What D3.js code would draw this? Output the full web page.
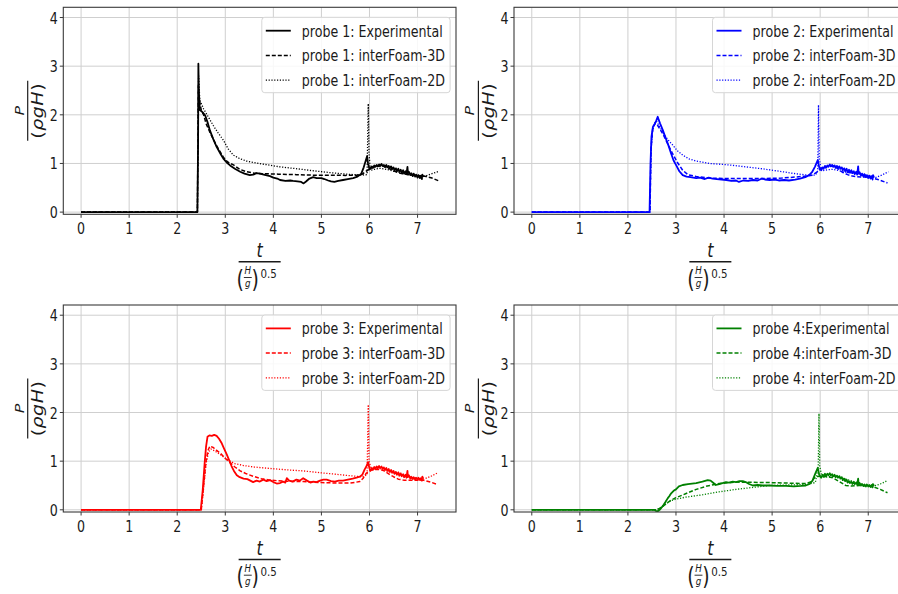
<!DOCTYPE html>
<html><head><meta charset="utf-8">
<script src="https://cdn.jsdelivr.net/npm/d3@7"></script>
<style>body{margin:0;background:#fff}svg{display:block}</style>
</head><body>
<svg id="chart" width="898" height="594"></svg>
<script>
const tTicks = [0,1,2,3,4,5,6,7];
const pTicks = [0,1,2,3,4];
const probeColors = ["#000000","#0000ff","#ff0000","#008000"];
const seriesLabels = [
  ["probe 1: Experimental","probe 1: interFoam-3D","probe 1: interFoam-2D"],
  ["probe 2: Experimental","probe 2: interFoam-3D","probe 2: interFoam-2D"],
  ["probe 3: Experimental","probe 3: interFoam-3D","probe 3: interFoam-2D"],
  ["probe 4:Experimental","probe 4:interFoam-3D","probe 4: interFoam-2D"]
];

// ---- probe 1 ----
const probe1Exp = [[0,0],[2.42,0],[2.435,1.5],[2.44,3.05],[2.45,2.5],[2.47,2.1],[2.52,2.06],[2.58,1.99],[2.63,1.85],[2.68,1.68],[2.75,1.5],[2.82,1.34],[2.9,1.2],[2.96,1.1],[3.03,1.02],[3.1,0.96],[3.2,0.89],[3.31,0.83],[3.4,0.79],[3.51,0.76],[3.58,0.77],[3.65,0.8],[3.72,0.79],[3.8,0.77],[3.93,0.74],[4.0,0.71],[4.08,0.69],[4.14,0.66],[4.25,0.64],[4.35,0.65],[4.41,0.64],[4.5,0.63],[4.58,0.62],[4.63,0.59],[4.68,0.63],[4.75,0.69],[4.83,0.72],[4.9,0.7],[5.0,0.7],[5.06,0.68],[5.14,0.65],[5.2,0.63],[5.27,0.62],[5.35,0.64],[5.45,0.66],[5.55,0.68],[5.66,0.7],[5.75,0.73],[5.83,0.79],[5.88,0.92],[5.92,1.05],[5.95,1.15],[5.97,1.0],[6.0,0.88],[6.02,0.9],[6.05,0.94],[6.07,0.91],[6.1,0.96],[6.12,0.93],[6.15,0.97],[6.17,0.94],[6.2,0.98],[6.22,0.95],[6.25,0.99],[6.27,0.95],[6.3,0.97],[6.32,0.93],[6.35,0.97],[6.37,0.92],[6.4,0.95],[6.42,0.9],[6.45,0.94],[6.47,0.88],[6.5,0.92],[6.52,0.86],[6.55,0.9],[6.57,0.84],[6.6,0.89],[6.62,0.83],[6.65,0.87],[6.67,0.81],[6.7,0.86],[6.72,0.79],[6.75,0.84],[6.77,0.78],[6.79,0.93],[6.8,0.8],[6.82,0.83],[6.85,0.76],[6.87,0.8],[6.9,0.74],[6.92,0.79],[6.95,0.73],[6.97,0.77],[7.0,0.71],[7.02,0.76],[7.05,0.7],[7.07,0.75],[7.09,0.68],[7.1,0.77],[7.12,0.72]];
const probe1Sim3D = [[0,0],[2.42,0],[2.44,2.6],[2.46,2.3],[2.5,2.1],[2.55,2.0],[2.6,1.82],[2.7,1.6],[2.8,1.4],[2.9,1.23],[2.96,1.13],[3.05,1.03],[3.17,0.97],[3.3,0.88],[3.44,0.83],[3.6,0.8],[3.79,0.79],[4.1,0.78],[4.48,0.77],[4.8,0.76],[5.18,0.76],[5.5,0.755],[5.73,0.76],[5.85,0.78],[5.93,0.84],[6.03,0.9],[6.15,0.94],[6.27,0.95],[6.38,0.91],[6.48,0.86],[6.6,0.81],[6.69,0.79],[6.8,0.77],[6.9,0.76],[7.05,0.75],[7.18,0.73],[7.3,0.7],[7.45,0.64]];
const probe1Sim2D = [[0,0],[2.42,0],[2.445,2.8],[2.47,2.3],[2.55,2.12],[2.65,1.95],[2.75,1.78],[2.85,1.63],[2.96,1.48],[3.06,1.3],[3.17,1.17],[3.3,1.1],[3.44,1.05],[3.7,1.0],[4.14,0.93],[4.5,0.89],[4.83,0.85],[5.2,0.81],[5.52,0.78],[5.83,0.76],[5.95,0.77],[5.975,2.23],[5.99,1.2],[6.02,0.86],[6.1,0.88],[6.22,0.9],[6.35,0.88],[6.5,0.84],[6.7,0.8],[6.9,0.77],[7.05,0.74],[7.16,0.74],[7.3,0.79],[7.45,0.84]];

// ---- probe 2 ----
const probe2Exp = [[0,0],[2.45,0],[2.47,1.0],[2.49,1.55],[2.52,1.75],[2.56,1.82],[2.59,1.88],[2.62,1.96],[2.64,1.9],[2.67,1.82],[2.72,1.7],[2.79,1.51],[2.85,1.35],[2.9,1.2],[2.95,1.06],[3.0,0.97],[3.07,0.84],[3.14,0.76],[3.22,0.73],[3.3,0.72],[3.42,0.7],[3.5,0.71],[3.6,0.68],[3.68,0.71],[3.76,0.69],[3.85,0.68],[3.95,0.67],[4.05,0.66],[4.15,0.64],[4.25,0.65],[4.31,0.62],[4.4,0.65],[4.5,0.64],[4.6,0.66],[4.7,0.65],[4.79,0.69],[4.85,0.67],[4.95,0.66],[5.05,0.67],[5.14,0.65],[5.25,0.66],[5.35,0.65],[5.48,0.67],[5.58,0.69],[5.69,0.72],[5.77,0.76],[5.83,0.82],[5.89,0.93],[5.95,1.07],[5.98,0.92],[6.02,0.86],[6.05,0.92],[6.07,0.89],[6.1,0.95],[6.12,0.91],[6.15,0.96],[6.17,0.93],[6.2,0.98],[6.22,0.94],[6.25,0.97],[6.27,0.93],[6.3,0.96],[6.32,0.91],[6.35,0.95],[6.37,0.9],[6.4,0.94],[6.42,0.89],[6.45,0.92],[6.47,0.86],[6.5,0.9],[6.52,0.84],[6.55,0.89],[6.57,0.82],[6.6,0.87],[6.62,0.81],[6.65,0.86],[6.67,0.8],[6.7,0.84],[6.72,0.78],[6.75,0.83],[6.77,0.77],[6.79,0.94],[6.8,0.79],[6.82,0.82],[6.85,0.75],[6.87,0.79],[6.9,0.73],[6.92,0.78],[6.95,0.72],[6.97,0.76],[7.0,0.7],[7.02,0.75],[7.05,0.69],[7.07,0.74],[7.09,0.67],[7.1,0.76],[7.12,0.71]];
const probe2Sim3D = [[0,0],[2.46,0],[2.48,1.3],[2.52,1.75],[2.57,1.82],[2.62,1.78],[2.72,1.62],[2.82,1.42],[2.93,1.2],[3.03,1.02],[3.14,0.86],[3.25,0.77],[3.42,0.73],[3.7,0.7],[4.11,0.69],[4.8,0.69],[5.2,0.7],[5.48,0.72],[5.7,0.74],[5.83,0.76],[5.93,0.82],[6.02,0.9],[6.15,0.94],[6.26,0.95],[6.36,0.9],[6.46,0.82],[6.57,0.77],[6.67,0.74],[6.85,0.72],[7.01,0.72],[7.2,0.67],[7.4,0.6]];
const probe2Sim2D = [[0,0],[2.46,0],[2.48,1.2],[2.51,1.65],[2.56,1.85],[2.6,1.86],[2.66,1.76],[2.72,1.65],[2.82,1.5],[2.93,1.38],[3.03,1.26],[3.14,1.17],[3.28,1.09],[3.42,1.05],[3.7,1.0],[4.11,0.97],[4.45,0.93],[4.8,0.89],[5.15,0.84],[5.48,0.79],[5.75,0.76],[5.9,0.76],[5.95,0.85],[5.965,2.2],[5.98,1.1],[6.03,0.85],[6.15,0.87],[6.26,0.88],[6.4,0.85],[6.53,0.82],[6.7,0.8],[6.88,0.78],[7.0,0.75],[7.15,0.71],[7.28,0.76],[7.42,0.83]];

// ---- probe 3 ----
const probe3Exp = [[0,0],[2.49,0],[2.53,0.4],[2.57,0.95],[2.6,1.3],[2.63,1.5],[2.67,1.53],[2.72,1.52],[2.77,1.54],[2.82,1.52],[2.87,1.46],[2.92,1.38],[2.97,1.27],[3.03,1.14],[3.08,1.02],[3.13,0.9],[3.18,0.8],[3.24,0.71],[3.3,0.67],[3.38,0.64],[3.46,0.63],[3.52,0.6],[3.58,0.57],[3.65,0.6],[3.72,0.58],[3.79,0.62],[3.86,0.59],[3.93,0.61],[4.0,0.57],[4.07,0.54],[4.14,0.55],[4.2,0.58],[4.25,0.56],[4.28,0.65],[4.33,0.6],[4.4,0.58],[4.48,0.62],[4.55,0.6],[4.62,0.65],[4.7,0.6],[4.77,0.56],[4.83,0.58],[4.9,0.57],[4.97,0.6],[5.04,0.62],[5.11,0.62],[5.2,0.59],[5.28,0.58],[5.36,0.6],[5.45,0.6],[5.55,0.62],[5.65,0.64],[5.73,0.66],[5.8,0.68],[5.85,0.72],[5.9,0.83],[5.94,0.9],[5.97,0.98],[6.0,0.85],[6.02,0.8],[6.05,0.86],[6.07,0.82],[6.1,0.88],[6.12,0.84],[6.15,0.89],[6.17,0.85],[6.2,0.9],[6.22,0.86],[6.25,0.89],[6.27,0.84],[6.3,0.87],[6.32,0.82],[6.35,0.86],[6.37,0.8],[6.4,0.84],[6.42,0.78],[6.45,0.82],[6.47,0.76],[6.5,0.8],[6.52,0.74],[6.55,0.78],[6.57,0.72],[6.6,0.77],[6.62,0.7],[6.65,0.75],[6.67,0.69],[6.7,0.73],[6.72,0.67],[6.75,0.72],[6.77,0.66],[6.79,0.8],[6.8,0.67],[6.82,0.71],[6.85,0.64],[6.87,0.68],[6.9,0.63],[6.92,0.67],[6.95,0.62],[6.97,0.66],[7.0,0.62],[7.02,0.66],[7.05,0.61],[7.07,0.65],[7.09,0.6],[7.1,0.68],[7.12,0.64]];
const probe3Sim3D = [[0,0],[2.5,0],[2.55,0.5],[2.6,1.0],[2.64,1.22],[2.68,1.31],[2.75,1.28],[2.82,1.22],[2.89,1.17],[2.97,1.09],[3.03,1.03],[3.1,0.97],[3.2,0.88],[3.31,0.8],[3.44,0.74],[3.58,0.69],[3.75,0.64],[3.93,0.61],[4.2,0.59],[4.62,0.58],[5.0,0.56],[5.31,0.55],[5.6,0.55],[5.8,0.58],[5.87,0.65],[5.93,0.75],[6.0,0.8],[6.08,0.83],[6.2,0.83],[6.29,0.81],[6.4,0.74],[6.5,0.68],[6.6,0.63],[6.71,0.61],[6.9,0.61],[7.12,0.61],[7.3,0.56],[7.42,0.52]];
const probe3Sim2D = [[0,0],[2.5,0],[2.55,0.45],[2.6,0.95],[2.65,1.18],[2.7,1.25],[2.78,1.21],[2.89,1.14],[3.0,1.06],[3.1,1.0],[3.2,0.95],[3.38,0.91],[3.6,0.88],[3.93,0.85],[4.3,0.82],[4.62,0.8],[5.0,0.76],[5.31,0.73],[5.6,0.7],[5.86,0.68],[5.95,0.72],[5.975,2.16],[5.99,1.0],[6.04,0.83],[6.15,0.85],[6.29,0.84],[6.45,0.78],[6.6,0.73],[6.71,0.7],[6.9,0.66],[7.12,0.63],[7.28,0.69],[7.42,0.76]];

// ---- probe 4 ----
const probe4Exp = [[0,0],[2.55,0],[2.58,-0.02],[2.62,-0.03],[2.66,0.0],[2.72,0.07],[2.78,0.16],[2.83,0.24],[2.86,0.28],[2.9,0.34],[2.95,0.39],[3.0,0.42],[3.06,0.48],[3.14,0.51],[3.25,0.53],[3.42,0.55],[3.55,0.58],[3.66,0.61],[3.72,0.6],[3.78,0.55],[3.83,0.51],[3.9,0.53],[3.97,0.55],[4.04,0.57],[4.1,0.56],[4.18,0.58],[4.25,0.57],[4.32,0.59],[4.39,0.59],[4.45,0.57],[4.52,0.53],[4.6,0.5],[4.7,0.51],[4.8,0.5],[4.94,0.5],[5.1,0.49],[5.29,0.49],[5.45,0.48],[5.6,0.49],[5.7,0.5],[5.78,0.53],[5.84,0.6],[5.9,0.75],[5.95,0.86],[5.98,0.72],[6.02,0.66],[6.05,0.72],[6.07,0.69],[6.1,0.74],[6.12,0.7],[6.15,0.74],[6.17,0.71],[6.2,0.75],[6.22,0.71],[6.25,0.73],[6.27,0.69],[6.3,0.72],[6.32,0.67],[6.35,0.7],[6.37,0.66],[6.4,0.69],[6.42,0.64],[6.45,0.67],[6.47,0.61],[6.5,0.64],[6.52,0.59],[6.55,0.62],[6.57,0.56],[6.6,0.59],[6.62,0.55],[6.65,0.58],[6.67,0.53],[6.7,0.57],[6.72,0.53],[6.75,0.56],[6.77,0.52],[6.79,0.64],[6.8,0.52],[6.82,0.55],[6.85,0.5],[6.87,0.53],[6.9,0.49],[6.92,0.52],[6.95,0.48],[6.97,0.52],[7.0,0.48],[7.02,0.51],[7.05,0.47],[7.07,0.51],[7.09,0.46],[7.1,0.53],[7.12,0.49]];
const probe4Sim3D = [[0,0],[2.6,0],[2.7,0.05],[2.8,0.13],[2.9,0.2],[3.0,0.25],[3.2,0.33],[3.42,0.42],[3.65,0.49],[3.9,0.54],[4.25,0.57],[4.6,0.565],[4.94,0.56],[5.3,0.55],[5.7,0.54],[5.82,0.58],[5.9,0.68],[6.04,0.69],[6.15,0.68],[6.26,0.66],[6.4,0.58],[6.53,0.5],[6.65,0.49],[6.81,0.5],[7.09,0.48],[7.25,0.42],[7.4,0.35]];
const probe4Sim2D = [[0,0],[2.6,0],[2.7,0.06],[2.8,0.13],[2.9,0.19],[3.0,0.22],[3.2,0.26],[3.56,0.31],[3.9,0.37],[4.25,0.42],[4.6,0.46],[4.94,0.5],[5.3,0.51],[5.7,0.52],[5.9,0.56],[5.96,0.9],[5.975,1.98],[5.99,0.9],[6.04,0.66],[6.15,0.68],[6.33,0.69],[6.5,0.64],[6.67,0.59],[6.85,0.53],[7.09,0.48],[7.25,0.53],[7.4,0.6]];

const probeSeries = [
  [probe1Exp, probe1Sim3D, probe1Sim2D],
  [probe2Exp, probe2Sim3D, probe2Sim2D],
  [probe3Exp, probe3Sim3D, probe3Sim2D],
  [probe4Exp, probe4Sim3D, probe4Sim2D]
];

// ---- layout ----
const SX = 0.79;               // horizontal text compression of the reference
const FONT = "DejaVu Sans";
const W = 392.7, H = 207;
const panelOrigins = [[63.3,7.3],[514,7.3],[63.3,305],[514,305]];
const lineStyles = [
  {w:1.8, dash:null},
  {w:1.5, dash:"4,2"},
  {w:1.3, dash:"1.2,1.6"}
];
const INK = "#1a1a1a";

const svg = d3.select("#chart");

function sText(g, x, y, str, size, anchor, italic) {
  return g.append("text")
    .attr("transform", `translate(${x},${y}) scale(${SX},1)`)
    .attr("font-family", FONT)
    .attr("font-size", size)
    .attr("font-style", italic ? "italic" : "normal")
    .attr("text-anchor", anchor || "start")
    .attr("fill", INK)
    .text(str);
}

probeSeries.forEach((series, pi) => {
  const [x0, y0] = panelOrigins[pi];
  const color = probeColors[pi];
  const x = d3.scaleLinear().domain([-0.37, 7.8]).range([x0, x0 + W]);
  const y = d3.scaleLinear().domain([-0.045, 4.21]).range([y0 + H, y0]);
  const g = svg.append("g");

  const clipId = "clip" + pi;
  svg.append("clipPath").attr("id", clipId)
    .append("rect").attr("x", x0).attr("y", y0).attr("width", W).attr("height", H);

  // grid
  g.selectAll(".gx").data(tTicks).enter().append("line")
    .attr("x1", d => x(d)).attr("x2", d => x(d))
    .attr("y1", y0).attr("y2", y0 + H)
    .attr("stroke", "#cfcfcf").attr("stroke-width", 1);
  g.selectAll(".gy").data(pTicks).enter().append("line")
    .attr("x1", x0).attr("x2", x0 + W)
    .attr("y1", d => y(d)).attr("y2", d => y(d))
    .attr("stroke", "#cfcfcf").attr("stroke-width", 1);

  // series
  const line = d3.line().x(d => x(d[0])).y(d => y(d[1]));
  const lg = g.append("g").attr("clip-path", `url(#${clipId})`);
  series.forEach((data, si) => {
    lg.append("path").datum(data)
      .attr("d", line)
      .attr("fill", "none")
      .attr("stroke", color)
      .attr("stroke-width", lineStyles[si].w)
      .attr("stroke-linejoin", "round")
      .attr("stroke-dasharray", lineStyles[si].dash);
  });

  // frame
  g.append("rect").attr("x", x0).attr("y", y0).attr("width", W).attr("height", H)
    .attr("fill", "none").attr("stroke", "#3a3a3a").attr("stroke-width", 1.1);

  // ticks
  g.selectAll(".tx").data(tTicks).enter().append("line")
    .attr("x1", d => x(d)).attr("x2", d => x(d))
    .attr("y1", y0 + H).attr("y2", y0 + H + 3.5)
    .attr("stroke", "#3a3a3a").attr("stroke-width", 1);
  g.selectAll(".ty").data(pTicks).enter().append("line")
    .attr("x1", x0 - 3.5).attr("x2", x0)
    .attr("y1", d => y(d)).attr("y2", d => y(d))
    .attr("stroke", "#3a3a3a").attr("stroke-width", 1);
  tTicks.forEach(t => sText(g, x(t), y0 + H + 19.5, String(t), 16, "middle"));
  pTicks.forEach(p => sText(g, x0 - 5.5, y(p) + 6, String(p), 16, "end"));

  // x label: t / (H/g)^0.5
  const cx = x0 + W / 2;
  const xl = g.append("g").attr("transform", `translate(${cx},${y0 + H}) scale(${SX},1)`)
    .attr("font-family", FONT).attr("fill", INK);
  xl.append("text").attr("x", 0).attr("y", 43).attr("font-size", 20)
    .attr("font-style", "italic").attr("text-anchor", "middle").text("t");
  xl.append("line").attr("x1", -26.6).attr("x2", 26.6).attr("y1", 47.5).attr("y2", 47.5)
    .attr("stroke", INK).attr("stroke-width", 1.4);
  const dn = xl.append("text").attr("text-anchor", "middle");
  dn.append("tspan").attr("x", -24.5).attr("y", 73.5).attr("font-size", 24).text("(");
  dn.append("tspan").attr("x", -15).attr("y", 60).attr("font-size", 11)
    .attr("font-style", "italic").text("H");
  dn.append("tspan").attr("x", -15).attr("y", 73).attr("font-size", 11)
    .attr("font-style", "italic").text("g");
  dn.append("tspan").attr("x", -5.5).attr("y", 73.5).attr("font-size", 24).text(")");
  dn.append("tspan").attr("x", 11.5).attr("y", 64).attr("font-size", 13).text("0.5");
  xl.append("line").attr("x1", -20).attr("x2", -10).attr("y1", 63.2).attr("y2", 63.2)
    .attr("stroke", INK).attr("stroke-width", 1);

  // y label: P / (ρgH)
  const cy = y0 + H / 2;
  const yl = g.append("g")
    .attr("transform", `translate(${x0 - 35.6},${cy}) scale(${SX},1) rotate(-90)`)
    .attr("font-family", FONT).attr("fill", INK);
  yl.append("text").attr("x", 0).attr("y", -5.2).attr("font-size", 16)
    .attr("font-style", "italic").attr("text-anchor", "middle").text("P");
  yl.append("line").attr("x1", -30).attr("x2", 30).attr("y1", 0).attr("y2", 0)
    .attr("stroke", INK).attr("stroke-width", 1.5);
  const den = yl.append("text").attr("x", 0).attr("y", 19.5).attr("font-size", 19)
    .attr("text-anchor", "middle").attr("letter-spacing", 0.5);
  den.append("tspan").text("(");
  den.append("tspan").attr("font-style", "italic").text("ρgH");
  den.append("tspan").text(")");

  // legend
  const lx = x0 + 198.5, ly = y0 + 10;
  const leg = g.append("g");
  leg.append("rect").attr("x", lx).attr("y", ly).attr("width", 188.3).attr("height", 75.4)
    .attr("rx", 3).attr("fill", "#ffffff").attr("fill-opacity", 0.85)
    .attr("stroke", "#d6d6d6").attr("stroke-width", 1);
  seriesLabels[pi].forEach((lab, si) => {
    const ry = ly + 13.4 + si * 24.7;
    leg.append("line").attr("x1", lx + 4).attr("x2", lx + 29)
      .attr("y1", ry).attr("y2", ry)
      .attr("stroke", color).attr("stroke-width", lineStyles[si].w)
      .attr("stroke-dasharray", lineStyles[si].dash);
    sText(leg, lx + 40, ry + 6, lab, 16, "start");
  });
});
</script>
</body></html>
